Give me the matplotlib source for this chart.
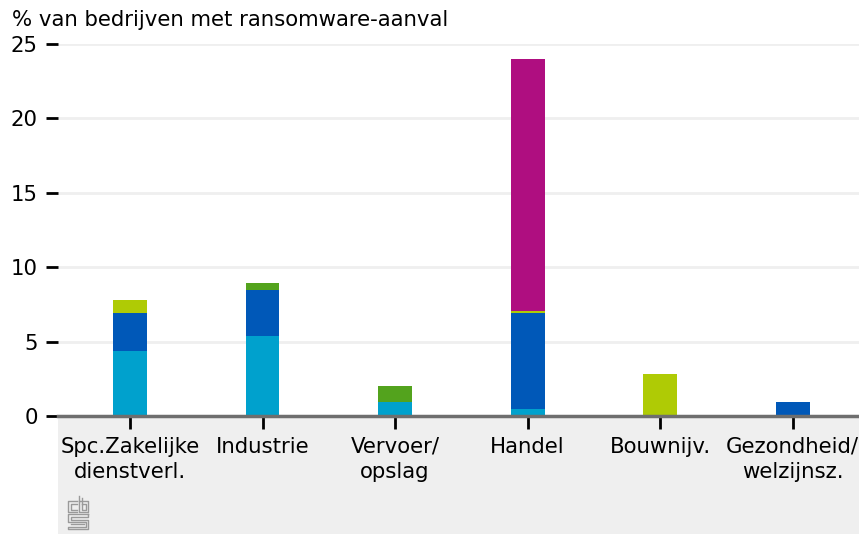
import matplotlib
matplotlib.use("Agg")
import matplotlib.pyplot as plt
from matplotlib.patches import Rectangle
from matplotlib.lines import Line2D
import numpy as np

categories = ["Spc.Zakelijke\ndienstverl.", "Industrie", "Vervoer/\nopslag", "Handel", "Bouwnijv.", "Gezondheid/\nwelzijnsz."]
s_cyan    = [4.35, 5.36, 0.94, 0.47, 0.0, 0.0]
s_blue    = [2.55, 3.08, 0.0, 6.43, 0.0, 0.94]
s_green   = [0.0, 0.53, 1.07, 0.0, 0.0, 0.0]
s_lime    = [0.87, 0.0, 0.0, 0.14, 2.81, 0.0]
s_magenta = [0.0, 0.0, 0.0, 16.96, 0.0, 0.0]
series = [s_cyan, s_blue, s_green, s_lime, s_magenta]
colors = ["#00a1cd", "#0058b8", "#53a31d", "#afcb05", "#af0e80"]
yticks = [0, 5, 10, 15, 20, 25]
ylabel = "% van bedrijven met ransomware-aanval"

W, H = 859, 534
fig = plt.figure(figsize=(W/100, H/100), dpi=100)
plt.rcParams['font.family'] = ['DejaVu Sans']
FS = 15.3

# gray band under the axis
fig.patches.append(Rectangle((58/W, 0), 1-58/W, (H-417)/H, transform=fig.transFigure,
                             facecolor="#efefef", edgecolor="none", zorder=-5))

ax = fig.add_axes([58/W, (H-416)/H, 1-58/W, (416-44)/H])
ax.set_zorder(2)
ax.set_facecolor("none")
x = np.arange(len(categories))
bottom = np.zeros(len(categories))
for vals, c in zip(series, colors):
    v = np.array(vals)
    ax.bar(x, v, width=0.255, bottom=bottom, color=c, zorder=3, linewidth=0)
    bottom += v

ax.set_xlim(-0.543, 5.5)
ax.set_ylim(0, 25)
ax.set_yticks(yticks)
ax.set_xticks(x)
ax.set_xticklabels(categories, fontsize=FS, linespacing=1.3)
ax.tick_params(axis='y', length=8.5, width=2, color="black", pad=6, labelsize=FS)
ax.tick_params(axis='x', length=9, width=2, color="black", pad=6, labelsize=FS)
for y in yticks[1:]:
    ax.axhline(y, color="#efefef", lw=2, zorder=1)
for s in ["top", "right", "left"]:
    ax.spines[s].set_visible(False)
ax.spines["bottom"].set_color("#6e6e6e")
ax.spines["bottom"].set_linewidth(2.5)
ax.spines["bottom"].set_zorder(4)

fig.text(12/W, 1-20/H, ylabel, fontsize=FS, ha="left", va="center")

# CBS logo (approximation), coordinates in pixels from top-left
def pl(xs, ys):
    fig.lines.append(Line2D([xx/W for xx in xs], [1-yy/H for yy in ys], transform=fig.transFigure,
                            color="#9a9a9a", lw=1.0))
# c
pl([77, 68, 68, 77], [501, 501, 512, 512])
pl([77, 70.5, 70.5, 77], [503.5, 503.5, 509.5, 509.5])
# b
pl([79, 79, 88, 88, 79], [496, 512, 512, 501, 501])
pl([81.5, 81.5, 85.5, 85.5, 81.5], [498, 509.5, 509.5, 503.5, 503.5])
# S
pl([88, 68, 68, 86, 86, 68, 68, 88, 88, 70.5, 70.5, 88, 88], [514, 514, 522, 522, 526.5, 526.5, 529, 529, 519.5, 519.5, 516.5, 516.5, 514])
pl([70.5, 83.5], [524.2, 524.2])

fig.savefig("out.png", dpi=100)
